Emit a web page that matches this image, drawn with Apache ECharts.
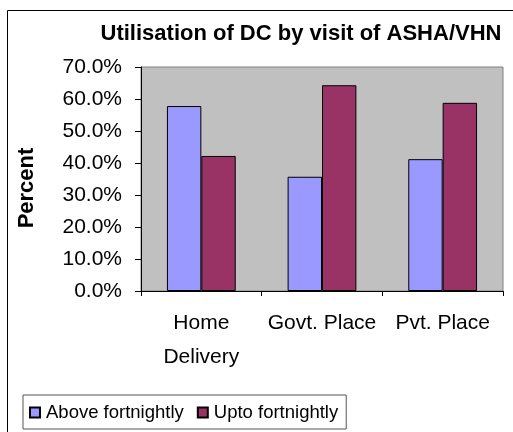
<!DOCTYPE html>
<html><head><meta charset="utf-8">
<script src="https://cdn.jsdelivr.net/npm/echarts@6/dist/echarts.min.js"></script>
<style>html,body{margin:0;padding:0;background:#fff}#c{width:513px;height:432px}</style>
</head><body><div id="c"></div>
<script>
const categories = ['Home\nDelivery', 'Govt. Place', 'Pvt. Place'];
const seriesNames = ['Above fortnightly', 'Upto fortnightly'];
const aboveFortnightly = [57.8, 35.7, 41.2];
const uptoFortnightly = [42.2, 64.3, 58.8];
const yTicks = { min: 0, max: 70, interval: 10 };

const FONT = 'Liberation Sans, Arial, sans-serif';
const chart = echarts.init(document.getElementById('c'), null, { renderer: 'canvas' });
chart.setOption({
  animation: false,
  backgroundColor: '#fff',
  title: {
    text: 'Utilisation of DC by visit of ASHA/VHN',
    left: 296, top: 18, textAlign: 'center',
    textStyle: { fontFamily: FONT, fontSize: 22, fontWeight: 'bold', color: '#000' }
  },
  grid: { left: 141, right: 10, top: 67, bottom: 141, show: true, backgroundColor: '#C0C0C0', borderColor: '#808080', borderWidth: 1 },
  legend: {
    left: 23, top: 395, itemWidth: 10, itemHeight: 10, itemGap: 13,
    borderColor: '#555', borderWidth: 1, padding: [8, 8, 7, 6], icon: 'rect',
    textStyle: { fontFamily: FONT, fontSize: 18.5, color: '#000', padding: [0, 0, 0, 1] },
    data: seriesNames
  },
  xAxis: {
    type: 'category', data: categories,
    axisLine: { lineStyle: { color: '#000', width: 1 } },
    axisTick: { show: true, length: 5, lineStyle: { color: '#000' } },
    axisLabel: { fontFamily: FONT, fontSize: 21, color: '#000', margin: 15, lineHeight: 34, interval: 0 }
  },
  yAxis: {
    type: 'value', min: yTicks.min, max: yTicks.max, interval: yTicks.interval,
    axisLine: { show: true, lineStyle: { color: '#000', width: 1 } },
    axisTick: { show: true, length: 6, lineStyle: { color: '#000' } },
    splitLine: { show: false },
    axisLabel: { fontFamily: FONT, fontSize: 21, color: '#000', margin: 19, formatter: v => v.toFixed(1) + '%' }
  },
  series: [
    { name: seriesNames[0], type: 'bar', data: aboveFortnightly, barGap: '0%', barCategoryGap: '43%',
      itemStyle: { color: '#9999FF', borderColor: '#000', borderWidth: 1 } },
    { name: seriesNames[1], type: 'bar', data: uptoFortnightly, barGap: '0%', barCategoryGap: '43%',
      itemStyle: { color: '#993366', borderColor: '#000', borderWidth: 1 } }
  ],
  graphic: [
    { type: 'rect', shape: { x: 7.5, y: 10.5, width: 520, height: 440 }, style: { fill: null, stroke: '#000', lineWidth: 1 }, z: -1, silent: true },
    { type: 'text', x: 27, y: 188, rotation: Math.PI / 2,
      style: { text: 'Percent', fontFamily: FONT, fontSize: 22, fontWeight: 'bold', fill: '#000', align: 'center', verticalAlign: 'middle' } }
  ]
});
</script></body></html>
